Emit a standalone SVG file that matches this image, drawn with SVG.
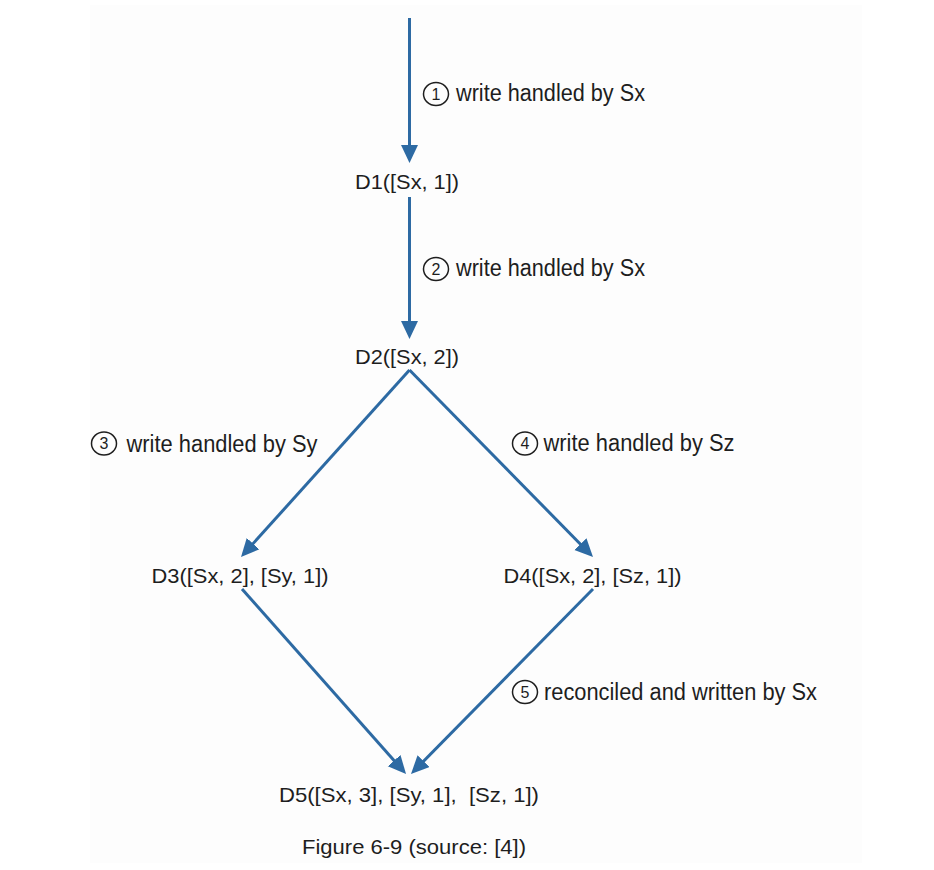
<svg xmlns="http://www.w3.org/2000/svg" width="934" height="870" viewBox="0 0 934 870">
<style>
.conn{fill:none;stroke:#2d6aa3;stroke-width:3;stroke-linecap:butt}
.node{font-family:"Liberation Sans",Arial,sans-serif;font-size:21px;fill:#1e1e1e}
.lbl{font-family:"Liberation Sans",Arial,sans-serif;font-size:23px;fill:#1e1e1e}
.num{font-family:"Liberation Sans",Arial,sans-serif;font-size:16px;fill:#1e1e1e;text-anchor:middle}
.ring{fill:none;stroke:#1e1e1e;stroke-width:1.5}
</style>
<defs>
<marker id="ah" markerUnits="userSpaceOnUse" markerWidth="19" markerHeight="18" refX="11" refY="8.5" orient="auto" viewBox="0 0 19 18">
<path d="M0,0 L18,8.5 L0,17 z" fill="#2d6aa3"/>
</marker>
</defs>
<rect x="90" y="5" width="772" height="858" fill="#fdfdfd"/>
<g id="connectors">
<path class="conn" d="M409.5,18 L409.5,156" marker-end="url(#ah)"/>
<path class="conn" d="M409.5,197 L409.5,332" marker-end="url(#ah)"/>
<path class="conn" d="M409.5,370 L245.7,551.8" marker-end="url(#ah)" stroke-linecap="round"/>
<path class="conn" d="M409.5,370 L588.1,552" marker-end="url(#ah)" stroke-linecap="round"/>
<path class="conn" d="M242,589 L401.4,768.8" marker-end="url(#ah)"/>
<path class="conn" d="M593,589 L415.9,769" marker-end="url(#ah)"/>
</g>
<g id="label1">
<ellipse class="ring" cx="436" cy="94" rx="12.5" ry="11.5"/>
<text class="num" x="436" y="99.8">1</text>
<text class="lbl" x="456" y="101" textLength="189" lengthAdjust="spacingAndGlyphs">write handled by Sx</text>
</g>
<g id="label2">
<ellipse class="ring" cx="436" cy="269" rx="12.5" ry="11.5"/>
<text class="num" x="436" y="274.8">2</text>
<text class="lbl" x="456" y="276" textLength="189" lengthAdjust="spacingAndGlyphs">write handled by Sx</text>
</g>
<g id="label3">
<ellipse class="ring" cx="104" cy="443.5" rx="12.5" ry="11.5"/>
<text class="num" x="104" y="449.3">3</text>
<text class="lbl" x="126.5" y="451.5" textLength="191" lengthAdjust="spacingAndGlyphs">write handled by Sy</text>
</g>
<g id="label4">
<ellipse class="ring" cx="525" cy="443.5" rx="12.5" ry="11.5"/>
<text class="num" x="525" y="449.3">4</text>
<text class="lbl" x="543.5" y="451" textLength="191" lengthAdjust="spacingAndGlyphs">write handled by Sz</text>
</g>
<g id="label5">
<ellipse class="ring" cx="525" cy="692" rx="12.5" ry="11.5"/>
<text class="num" x="525" y="697.8">5</text>
<text class="lbl" x="544" y="700" textLength="273" lengthAdjust="spacingAndGlyphs">reconciled and written by Sx</text>
</g>
<g id="D1"><text class="node" x="355" y="189" textLength="104" lengthAdjust="spacingAndGlyphs">D1([Sx, 1])</text></g>
<g id="D2"><text class="node" x="355" y="364" textLength="104" lengthAdjust="spacingAndGlyphs">D2([Sx, 2])</text></g>
<g id="D3"><text class="node" x="151.5" y="583" textLength="177" lengthAdjust="spacingAndGlyphs">D3([Sx, 2], [Sy, 1])</text></g>
<g id="D4"><text class="node" x="503.5" y="583" textLength="178" lengthAdjust="spacingAndGlyphs">D4([Sx, 2], [Sz, 1])</text></g>
<g id="D5"><text class="node" x="279" y="802" textLength="260" lengthAdjust="spacingAndGlyphs" xml:space="preserve">D5([Sx, 3], [Sy, 1],  [Sz, 1])</text></g>
<g id="caption"><text class="node" x="302" y="854" textLength="224" lengthAdjust="spacingAndGlyphs">Figure 6-9 (source: [4])</text></g>
</svg>
